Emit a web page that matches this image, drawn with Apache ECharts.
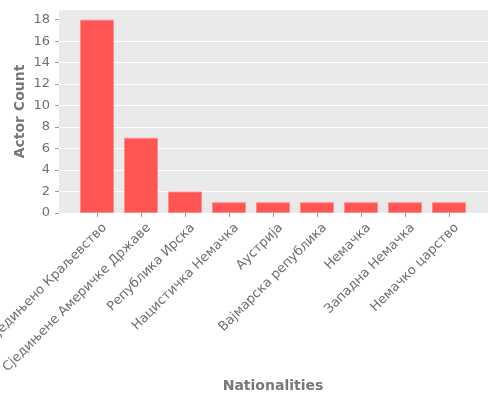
<!DOCTYPE html>
<html>
<head>
<meta charset="utf-8">
<script src="https://cdn.jsdelivr.net/npm/echarts@6/dist/echarts.min.js"></script>
<style>
  html, body { margin: 0; padding: 0; background: #fff; }
  #chart { width: 500px; height: 400px; }
</style>
</head>
<body>
<div id="chart"></div>
<script>
const nationalities = [
  "Сједињено Краљевство",
  "Сједињене Америчке Државе",
  "Република Ирска",
  "Нацистичка Немачка",
  "Аустрија",
  "Вајмарска република",
  "Немачка",
  "Западна Немачка",
  "Немачко царство"
];
const actorCounts = [18, 7, 2, 1, 1, 1, 1, 1, 1];
const yTicks = [0, 2, 4, 6, 8, 10, 12, 14, 16, 18];

const chart = echarts.init(document.getElementById("chart"));
const font = "DejaVu Sans";

const option = {
  animation: false,
  textStyle: { fontFamily: font },
  grid: [
    // background panel
    { left: 59, right: 12, top: 10, height: 203, show: true,
      backgroundColor: "#EAEAEA", borderWidth: 0, outerBoundsMode: "none" },
    // bars
    { left: 75, right: 29, top: 10, height: 203, outerBoundsMode: "none" }
  ],
  xAxis: [
    { gridIndex: 0, type: "value", min: 0, max: 1, show: false },
    {
      gridIndex: 1,
      type: "category",
      data: nationalities,
      name: "Nationalities",
      nameLocation: "middle",
      nameGap: 166,
      nameMoveOverlap: false,
      nameTextStyle: { fontFamily: font, fontSize: 14, fontWeight: "bold", color: "#777" },
      axisLine: { show: false },
      axisTick: { show: true, alignWithLabel: true, length: 4, lineStyle: { color: "#999" } },
      axisLabel: {
        interval: 0, rotate: 45, fontSize: 13, color: "#707070", margin: 5,
        verticalAlign: "top", lineHeight: 22, fontFamily: font
      },
      splitLine: { show: false }
    }
  ],
  yAxis: [
    {
      gridIndex: 0,
      type: "value",
      min: 0,
      max: 18.9,
      interval: 2,
      name: "Actor Count",
      nameLocation: "middle",
      nameGap: 32,
      nameMoveOverlap: false,
      nameTextStyle: { fontFamily: font, fontSize: 14, fontWeight: "bold", color: "#777" },
      axisLine: { show: false },
      axisTick: { show: true, length: 4, lineStyle: { color: "#999" }, customValues: yTicks },
      axisLabel: { fontSize: 13, color: "#707070", margin: 9, customValues: yTicks, fontFamily: font },
      splitLine: { show: true, showMaxLine: false, lineStyle: { color: "#fff", width: 1 } }
    },
    { gridIndex: 1, type: "value", min: 0, max: 18.9, show: false }
  ],
  series: [
    {
      type: "bar",
      xAxisIndex: 1,
      yAxisIndex: 1,
      data: actorCounts,
      barWidth: 34,
      itemStyle: { color: "#FF5555", borderColor: "#FF8A8A", borderWidth: 1 }
    }
  ]
};

chart.setOption(option);
</script>
</body>
</html>
